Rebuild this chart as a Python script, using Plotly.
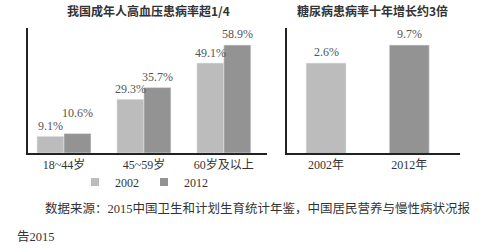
import numpy as np
import plotly.graph_objects as go

# ---- data ----
age_groups = ["18~44岁", "45~59岁", "60岁及以上"]
hyp_2002 = [9.1, 29.3, 49.1]
hyp_2012 = [10.6, 35.7, 58.9]
years = ["2002年", "2012年"]
diab = [2.6, 9.7]
series_names = ["2002", "2012"]
title_left = "我国成年人高血压患病率超1/4"
title_right = "糖尿病患病率十年增长约3倍"
source_l1 = "数据来源：2015中国卫生和计划生育统计年鉴，中国居民营养与慢性病状况报"
source_l2 = "告2015"

# ---- style ----
C02 = "#bcbcbc"
C12 = "#939393"
SERIF = "Liberation Serif, Noto Sans CJK SC"
W, H = 479, 250

fig = go.Figure()
fig.add_trace(go.Bar(x=age_groups, y=hyp_2002, marker_color=C02, showlegend=False,
                     xaxis="x", yaxis="y"))
fig.add_trace(go.Bar(x=age_groups, y=hyp_2012, marker_color=C12, showlegend=False,
                     xaxis="x", yaxis="y"))
fig.add_trace(go.Bar(x=years, y=diab, marker_color=[C02, C12], width=0.48,
                     showlegend=False, xaxis="x2", yaxis="y2"))
# legend entries
for name, col in zip(series_names, [C02, C12]):
    fig.add_trace(go.Scatter(x=[None], y=[None], mode="markers", name=name,
                             marker=dict(symbol="square", size=8, color=col),
                             xaxis="x", yaxis="y"))

ann = []
half = 0.3375 / 2
for i, (a, b) in enumerate(zip(hyp_2002, hyp_2012)):
    ann.append(dict(x=i - half, y=a, xref="x", yref="y", text=f"{a}%", showarrow=False,
                    yanchor="bottom", yshift=1))
    ann.append(dict(x=i + half, y=b, xref="x", yref="y", text=f"{b}%", showarrow=False,
                    yanchor="bottom", yshift=12 if i == 0 else 2))
for i, v in enumerate(diab):
    ann.append(dict(x=i, y=np.log10(v), xref="x2", yref="y2", text=f"{v}%", showarrow=False,
                    yanchor="bottom", yshift=2))
for a in ann:
    a["font"] = dict(family=SERIF, size=12, color="#555")

ann.append(dict(x=148 / W, y=1 - 10 / H, xref="paper", yref="paper", text=title_left,
                showarrow=False, xanchor="center", yanchor="middle",
                font=dict(family="Noto Sans CJK SC", size=12, color="#333", weight="bold")))
ann.append(dict(x=372 / W, y=1 - 10 / H, xref="paper", yref="paper", text=title_right,
                showarrow=False, xanchor="center", yanchor="middle",
                font=dict(family="Noto Sans CJK SC", size=12, color="#333", weight="bold")))
ann.append(dict(x=43 / W, y=1 - 208 / H, xref="paper", yref="paper", text=source_l1,
                showarrow=False, xanchor="left", yanchor="middle",
                font=dict(family=SERIF, size=12.5, color="#333")))
ann.append(dict(x=15 / W, y=1 - 237 / H, xref="paper", yref="paper", text=source_l2,
                showarrow=False, xanchor="left", yanchor="middle",
                font=dict(family=SERIF, size=12.5, color="#333")))

axis_common = dict(showgrid=False, zeroline=False, showline=True, linecolor="#222",
                   linewidth=1.5, ticks="", tickfont=dict(family=SERIF, size=12, color="#333"))
ydom = [1 - 153 / H, 1 - 28 / H]
fig.update_layout(
    width=W, height=H, margin=dict(l=0, r=0, t=0, b=0),
    paper_bgcolor="white", plot_bgcolor="white",
    barmode="group", bargap=0.325, bargroupgap=0,
    xaxis=dict(domain=[28 / W, 267 / W], range=[-0.45, 2.54], type="category",
               anchor="y", **axis_common),
    yaxis=dict(domain=ydom, range=[0, 68.2], showticklabels=False, anchor="x",
               **axis_common),
    xaxis2=dict(domain=[287 / W, 460 / W], range=[-0.47, 1.61], type="category",
                anchor="y2", **axis_common),
    yaxis2=dict(domain=ydom, type="log", range=[-2.44, 1.53], showticklabels=False,
                anchor="x2", **axis_common),
    legend=dict(orientation="h", x=75 / W, y=1 - 182 / H, xanchor="left", yanchor="middle",
                font=dict(family=SERIF, size=12, color="#333"), bgcolor="rgba(0,0,0,0)",
                itemwidth=30, tracegroupgap=0),
    annotations=ann,
)
fig.write_html("out.html")
